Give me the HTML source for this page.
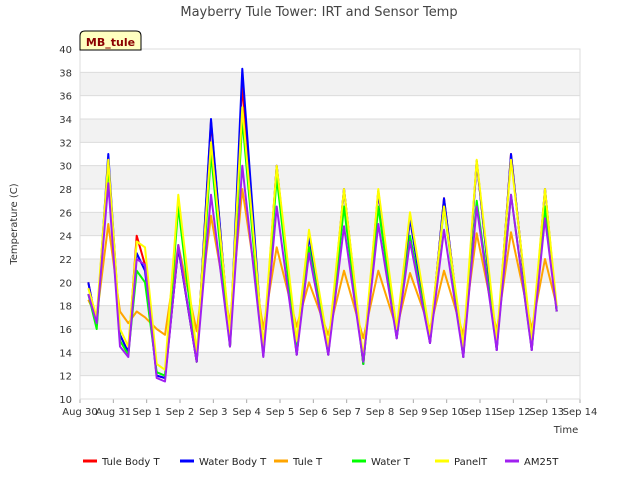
<!DOCTYPE html>
<html><head><meta charset="utf-8"><style>
body{margin:0;background:#fff;font-family:"DejaVu Sans","Liberation Sans",sans-serif;}
svg text{font-family:"DejaVu Sans","Liberation Sans",sans-serif;}
</style></head><body>
<svg id="chart" width="640" height="480" xmlns="http://www.w3.org/2000/svg">
<rect width="640" height="480" fill="#fff"/>
<g id="bands"></g>
<g id="grid"></g>
<g id="series"></g>
<g id="axes"></g>
<text x="319" y="16" text-anchor="middle" font-size="13" fill="#444">Mayberry Tule Tower: IRT and Sensor Temp</text>
<text transform="translate(17,224) rotate(-90)" text-anchor="middle" font-size="10" fill="#333">Temperature (C)</text>
<text x="566" y="433" text-anchor="middle" font-size="10" fill="#333">Time</text>
<g>
<path d="M80,50 L80,36 Q80,31 85,31 L136,31 Q141,31 141,36 L141,50 Z" fill="#ffffc0" stroke="#000" stroke-width="1"/>
<text x="110.5" y="46" text-anchor="middle" font-size="11" font-weight="bold" fill="#8b0000">MB_tule</text>
</g>
<g id="legend"></g>
</svg>
<script>
const times=[0.25,0.5,0.85,1.2,1.45,1.7,1.95,2.3,2.55,2.95,3.5,3.93,4.5,4.87,5.5,5.9,6.5,6.87,7.45,7.92,8.5,8.95,9.5,9.9,10.5,10.92,11.5,11.9,12.5,12.93,13.55,13.95,14.3];
const tuleBodyT=[20,16.3,30.5,15.5,14,24,21.5,12,11.8,23,13.2,33.8,14.5,37,13.7,30,13.8,24,13.8,28,13,27.8,15.2,25.5,14.8,27.2,13.6,30.4,14.2,31,14.2,28,17.5];
const waterBodyT=[20,16.3,31,15.5,14,22.5,21,12,11.8,23,13.2,34,14.5,38.3,13.7,30,13.8,24,13.8,28,13,27.8,15.2,25.5,14.8,27.2,13.6,30.4,14.2,31,14.2,28,17.5];
const tuleT=[18.5,17,25,17.5,16.5,17.5,17,16,15.5,23.2,15.8,25.7,16.5,28,16,23,16.2,20,15.5,21,15.2,21,16,20.8,16,21,15.5,24.2,15.8,24.3,16,22,18];
const waterT=[19,16,30,15,13.8,21,20,12.3,12,26.5,13.2,31,14.5,34,13.8,29,14,23,14,26.5,13,26.5,15.3,24,15,26.5,13.8,27,14.5,27.5,14.3,26.5,17.5];
const panelT=[19.5,17,30.5,16,14.5,23.5,23,13,12.5,27.5,14,32,15.5,35,14.5,30,15,24.5,14.5,28,13.5,28,16,26,15.5,26.5,14.5,30.5,15,30.5,15,28,18];
const am25T=[19,16.5,28.5,14.5,13.6,22,21.5,11.8,11.5,23.2,13.2,27.5,14.5,30,13.6,26.5,13.8,22.5,13.8,24.8,13.2,25,15.2,23.5,14.8,24.5,13.6,26.5,14.2,27.5,14.2,25.5,17.5];
const seriesNames=["Tule Body T","Water Body T","Tule T","Water T","PanelT","AM25T"];
const seriesColors=["#ff0000","#0000ff","#ffa500","#00ff00","#ffff00","#a020f0"];
const xTickLabels=["Aug 30","Aug 31","Sep 1","Sep 2","Sep 3","Sep 4","Sep 5","Sep 6","Sep 7","Sep 8","Sep 9","Sep 10","Sep 11","Sep 12","Sep 13","Sep 14"];
const yTicks=[10,12,14,16,18,20,22,24,26,28,30,32,34,36,38,40];

const NS="http://www.w3.org/2000/svg";
const L=80,R=580,T=49,B=399;
const xS=d=>L+d*(R-L)/15;
const yS=v=>B-(v-10)*(B-T)/30;
function mk(tag,attrs,parent){const e=document.createElementNS(NS,tag);for(const k in attrs)e.setAttribute(k,attrs[k]);parent.appendChild(e);return e;}
const bands=document.getElementById('bands'),grid=document.getElementById('grid'),axes=document.getElementById('axes'),ser=document.getElementById('series'),leg=document.getElementById('legend');
for(let v=12;v<40;v+=4){const r=mk('rect',{x:L,y:yS(v+2),width:R-L,height:yS(v)-yS(v+2),fill:'#f2f2f2'},bands);

}
yTicks.forEach(v=>{const l=mk('line',{x1:L,x2:R,y1:yS(v),y2:yS(v),stroke:'#dcdcdc','stroke-width':1},grid);


const t=mk('text',{x:L-8,y:yS(v)+4,'text-anchor':'end','font-size':10,fill:'#333'},axes);t.textContent=v;

});
xTickLabels.forEach((s,i)=>{const l=mk('line',{x1:xS(i),x2:xS(i),y1:B,y2:B+4,stroke:'#aaa'},axes);


const t=mk('text',{x:xS(i),y:B+16,'text-anchor':'middle','font-size':10,fill:'#333'},axes);t.textContent=s;

});
const fr=mk('rect',{x:L,y:T,width:R-L,height:B-T,fill:'none',stroke:'#dcdcdc'},axes);


const all=[tuleBodyT,waterBodyT,tuleT,waterT,panelT,am25T];
const drawOrder=[0,1,2,3,4,5];
drawOrder.forEach(i=>{const pts=times.map((t,j)=>xS(t).toFixed(1)+','+yS(all[i][j]).toFixed(1)).join(' ');
const p=mk('polyline',{points:pts,fill:'none',stroke:seriesColors[i],'stroke-width':2,'stroke-linejoin':'round'},ser);

});
const legX=[83,180,274,352,435,505];
seriesNames.forEach((n,i)=>{const g=mk('g',{},leg);


mk('line',{x1:legX[i],x2:legX[i]+14,y1:461,y2:461,stroke:seriesColors[i],'stroke-width':3},g);
const t=mk('text',{x:legX[i]+19,y:465,'font-size':10,fill:'#222'},g);t.textContent=n;});
</script>
</body></html>
